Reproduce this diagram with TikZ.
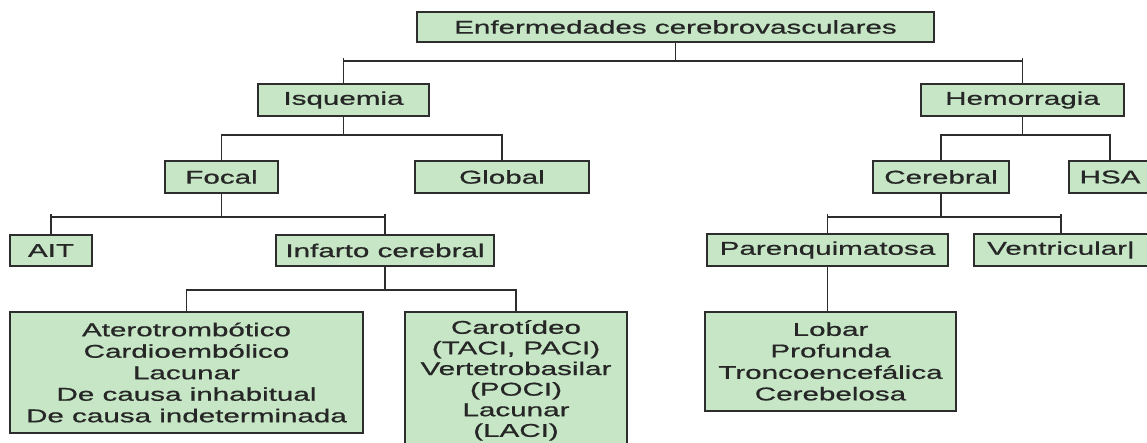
\documentclass[tikz,border=0pt]{standalone}
\usepackage{fontspec}
\setmainfont[FakeStretch=1.6,FakeBold=0.8]{Liberation Sans}
\usepackage{tikz}
\usetikzlibrary{positioning}
\definecolor{boxgreen}{RGB}{198,230,198}
\definecolor{linegray}{RGB}{45,45,45}

\begin{document}
\begin{tikzpicture}[x=1pt,y=-1pt,line join=miter,
                    font=\fontsize{18.5}{21.5}\selectfont]

  \tikzstyle{box} = [draw=linegray, line width=1.8pt, fill=boxgreen, inner sep=0pt,
                     minimum height=32pt, align=center, text=black!85]
  \tikzstyle{link} = [draw=linegray, line width=1.8pt]

  \useasboundingbox (0,0) rectangle (1147,443);
  \clip (0,0) rectangle (1147,443);

  \node[box, minimum width=517pt, minimum height=30pt] (A) at (675.5,27) {Enfermedades cerebrovasculares};
  \node[box, minimum width=171pt] (B) at (343.5,100) {Isquemia};
  \node[box, minimum width=203pt] (C) at (1022.5,100) {Hemorragia};
  \node[box, minimum width=113pt] (D) at (221.5,177) {Focal};
  \node[box, minimum width=174pt] (E) at (502,177)   {Global};
  \node[box, minimum width=136pt] (F) at (941,177)   {Cerebral};
  \node[box, minimum width=82pt]  (G) at (1110,177)  {HSA};
  \node[box, minimum width=82pt, minimum height=31pt]  (H) at (51,250.5)  {AIT};
  \node[box, minimum width=218pt, minimum height=31pt] (I) at (385,250.5) {Infarto cerebral};
  \node[box, minimum width=241pt] (J) at (827.5,250) {Parenquimatosa};
  \node[box, minimum width=174pt] (K) at (1061,250)  {Ventricular|};
  \node[box, minimum width=353pt, minimum height=121pt] (L) at (186.5,372.5)
       {Aterotrombótico\\Cardioembólico\\Lacunar\\De causa inhabitual\\De causa indeterminada};
  \node[box, minimum width=222pt, minimum height=143pt, font=\fontsize{18.5}{20.6}\selectfont,
        text depth=10pt] (M) at (516,383.5)
       {Carotídeo\\(TACI, PACI)\\Vertetrobasilar\\(POCI)\\Lacunar\\(LACI)};
  \node[box, minimum width=251pt, minimum height=99pt] (N) at (830.5,361.5)
       {Lobar\\Profunda\\Troncoencefálica\\Cerebelosa};

  % levels of the branching bars
  \coordinate (y1) at (0,61);
  \coordinate (y2) at (0,135);
  \coordinate (y3) at (0,217);
  \coordinate (y4) at (0,290);

  \draw[link] (A.south) -- (A.south |- y1);
  \draw[link] (B.north) -- (B.north |- y1) -- (C.north |- y1) -- (C.north);
  \draw[link] (B.north |- y1) -- ++(0,-3) (C.north |- y1) -- ++(0,-3);

  \draw[link] (B.south) -- (B.south |- y2);
  \draw[link] (D.north) -- (D.north |- y2) -- (E.north |- y2) -- (E.north);

  \draw[link] (C.south) -- (C.south |- y2);
  \draw[link] (F.north) -- (F.north |- y2) -- (G.north |- y2) -- (G.north);

  \draw[link] (D.south) -- (D.south |- y3);
  \draw[link] (H.north) -- (H.north |- y3) -- (I.north |- y3) -- (I.north);
  \draw[link] (H.north |- y3) -- ++(0,-3) (I.north |- y3) -- ++(0,-3);

  \draw[link] (F.south) -- (F.south |- y3);
  \draw[link] (J.north) -- (J.north |- y3) -- (K.north |- y3) -- (K.north);
  \draw[link] (J.north |- y3) -- ++(0,-3) (K.north |- y3) -- ++(0,-3);

  \draw[link] (I.south) -- (I.south |- y4);
  \draw[link] (L.north) -- (L.north |- y4) -- (M.north |- y4) -- (M.north);

  \draw[link] (J.south) -- (J.south |- N.north);
\end{tikzpicture}
\end{document}
